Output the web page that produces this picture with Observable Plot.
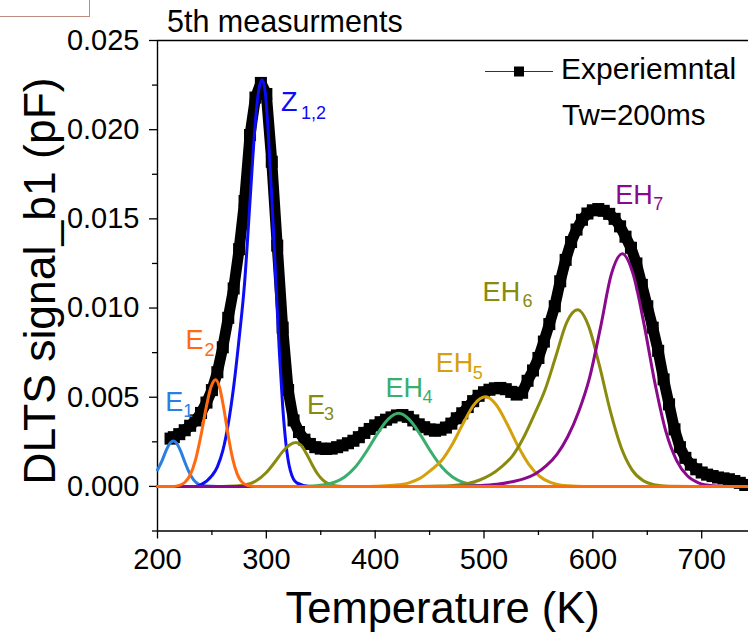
<!DOCTYPE html>
<html><head><meta charset="utf-8">
<script src="https://cdn.jsdelivr.net/npm/d3@7"></script>
<script src="https://cdn.jsdelivr.net/npm/@observablehq/plot@0.6"></script>
<style>
body{margin:0;background:#fff;}
#wrap{position:relative;width:748px;height:634px;overflow:hidden;background:#fff;}
#corner{position:absolute;left:0;top:0;width:88.5px;height:16px;border-right:1.5px solid #bd8e80;border-bottom:1.5px solid #bd8e80;}
svg text{font-family:"Liberation Sans",Arial,sans-serif;}
</style></head><body><div id="wrap"><div id="corner"></div></div>
<script>
// ---- axes ----
const xDomain = [200, 743];
const yDomain = [-0.0025, 0.025];
const xTicks = [200, 300, 400, 500, 600, 700];
const xMinorTicks = [250, 350, 450, 550, 650];
const yTicks = [0, 0.005, 0.01, 0.015, 0.02, 0.025];
const yMinorTicks = [-0.0025, 0.0025, 0.0075, 0.0125, 0.0175, 0.0225];

// ---- experimental DLTS signal (T [K], signal [pF]) ----
const experimental = [
[212,0.00268],[215,0.00276],[220,0.00293],[225,0.00315],[230,0.00340],[235,0.00370],[240,0.00412],
[245,0.00470],[250,0.00540],[255,0.00640],[260,0.00780],[265,0.00945],[270,0.01110],[275,0.01330],
[280,0.01600],[285,0.01970],[290,0.02180],[295,0.02262],[300,0.02200],[305,0.01820],[310,0.01350],
[315,0.00890],[320,0.00540],[325,0.00370],[330,0.00305],[335,0.00262],[340,0.00238],[345,0.00220],
[350,0.00212],[355,0.00210],[360,0.00212],[365,0.00220],[370,0.00230],[375,0.00242],[380,0.00256],
[385,0.00276],[390,0.00300],[395,0.00322],[400,0.00342],[405,0.00360],[410,0.00374],[415,0.00387],
[420,0.00398],[425,0.00400],[430,0.00390],[435,0.00370],[440,0.00348],[445,0.00332],[450,0.00320],
[455,0.00312],[460,0.00318],[465,0.00330],[470,0.00352],[475,0.00382],[480,0.00410],[485,0.00445],
[490,0.00478],[495,0.00508],[500,0.00528],[505,0.00542],[510,0.00550],[515,0.00552],[520,0.00545],
[525,0.00530],[530,0.00515],[535,0.00525],[540,0.00592],[545,0.00650],[550,0.00720],[555,0.00812],
[560,0.00910],[565,0.01010],[570,0.01150],[575,0.01270],[580,0.01370],[585,0.01440],[590,0.01495],
[595,0.01530],[600,0.01548],[605,0.01555],[610,0.01545],[615,0.01528],[620,0.01500],[625,0.01458],
[630,0.01400],[635,0.01338],[640,0.01250],[645,0.01130],[650,0.01010],[655,0.00890],[660,0.00760],
[665,0.00600],[670,0.00460],[675,0.00320],[680,0.00220],[685,0.00160],[690,0.00122],[695,0.00096],
[700,0.00078],[705,0.00066],[710,0.00058],[715,0.00050],[720,0.00045],[725,0.00040],[730,0.00030],
[735,0.00020],[740,0.00008]
];

// ---- fitted components ----
const compE1 = [[200,0.00092],[204,0.00142],[208,0.00202],[212,0.00246],[214.5,0.00255],[217,0.00246],
[221,0.00202],[225,0.00138],[229,0.00080],[233,0.00038],[238,0.00012],[245,0.00002],[255,0],[743,0]];
const compE2 = [[200,0],[215,0],[220,0.00006],[225,0.00022],[230,0.00064],[235,0.0015],[240,0.00288],
[245,0.0045],[249,0.00554],[253.3,0.00598],[257,0.00556],[261,0.00434],[265,0.00284],[269,0.00157],
[273,0.00073],[277,0.00028],[283,0.00005],[290,0],[743,0]];
const compZ12 = [[200,0],[235,0],[240,0.0001],[250,0.0006],[255,0.0011],[260,0.0020],[265,0.0035],
[270,0.0056],[275,0.0083],[280,0.0114],[285,0.0160],[290,0.0205],[293,0.0222],[296,0.0228],[299,0.0221],
[302,0.0196],[306,0.0150],[309,0.0112],[312,0.0075],[315,0.0045],[318,0.0024],[322,0.0009],[328,0.0002],
[340,0],[743,0]];
const compE3 = [[200,0],[260,0],[270,0.00002],[280,0.00008],[290,0.00029],[300,0.00078],[308,0.00138],
[315,0.00195],[321,0.00231],[327.3,0.00246],[332,0.00229],[337,0.00182],[342,0.00123],[347,0.00071],
[352,0.00035],[358,0.00012],[365,0.00003],[375,0],[743,0]];
const compEH4 = [[200,0],[330,0],[337,0.00001],[352,0.00008],[362,0.00022],[372,0.00053],[382,0.0011],
[392,0.00196],[402,0.00295],[412,0.00377],[421.5,0.0041],[431,0.00377],[441,0.00295],[451,0.00196],
[461,0.0011],[471,0.00053],[481,0.00022],[491,0.00008],[506,0.00001],[515,0],[743,0]];
const compEH5 = [[200,0],[390,0],[400,0.00001],[416,0.00006],[431,0.0002],[441,0.00045],[451,0.0009],
[461,0.00145],[471,0.00238],[481,0.00355],[491,0.0046],[501.5,0.00502],[511,0.00459],[521,0.00353],
[531,0.00229],[541,0.00125],[551,0.00057],[561,0.00022],[571,0.00007],[586,0.00001],[595,0],[743,0]];
const compEH6 = [[200,0],[440,0],[460,0.00002],[474,0.00007],[486,0.00018],[496,0.00036],[506,0.00065],
[516,0.0011],[526,0.0017],[536,0.0027],[546,0.0040],[556,0.0054],[566,0.0073],[576,0.0092],[586,0.0099],
[596,0.0090],[606,0.00678],[616,0.00423],[626,0.00218],[636,0.00093],[646,0.00033],[656,0.0001],
[670,0.00001],[690,0],[743,0]];
const compEH7 = [[200,0],[470,0],[495,0.00004],[512,0.00012],[527,0.00028],[537,0.00044],[547,0.0007],
[557,0.00115],[567,0.0018],[577,0.0028],[587,0.0042],[597,0.0061],[607,0.0089],[617,0.0119],[627,0.01304],
[637,0.0119],[647,0.0091],[657,0.0058],[667,0.0031],[677,0.00145],[687,0.00058],[697,0.0002],[710,0.00004],
[725,0],[743,0]];

// ---- presentation (styles and label offsets, kept apart from data) ----
const FONT = "'Liberation Sans', Arial, sans-serif";
const series = [
  {data: compE1,  color: "#2b7fe0", name: "E",  sub: "1",   dx: -8,  dy: -30, sdx: 10,  sdy: -24},
  {data: compZ12, color: "#0c0cf5", name: "Z",  sub: "1,2", dx: 19,  dy: 31,  sdx: 39,  sdy: 39},
  {data: compE3,  color: "#8a8a0e", name: "E",  sub: "3",   dx: 11,  dy: -29, sdx: 28,  sdy: -23},
  {data: compEH4, color: "#3aae6c", name: "EH", sub: "4",   dx: -13, dy: -16, sdx: 24,  sdy: -10},
  {data: compEH5, color: "#d4a00c", name: "EH", sub: "5",   dx: -50, dy: -25, sdx: -13, sdy: -18},
  {data: compEH6, color: "#8a8a0e", name: "EH", sub: "6",   dx: -95, dy: -9,  sdx: -55, sdy: -3},
  {data: compEH7, color: "#8b0a8b", name: "EH", sub: "7",   dx: -7,  dy: -50, sdx: 31,  sdy: -44},
  {data: compE2,  color: "#ff6a10", name: "E",  sub: "2",   dx: -30, dy: -31, sdx: -11, sdy: -24}
];

const marks = [
  Plot.ruleY([yDomain[1]], {stroke: "black", strokeWidth: 1.4}),
  Plot.ruleY([yDomain[0]], {stroke: "black", strokeWidth: 1.4}),
  Plot.ruleX([xDomain[0]], {stroke: "black", strokeWidth: 1.4}),
  Plot.axisX({ticks: xTicks, tickSize: 8, tickPadding: 9, fontSize: 29, label: null,
    tickFormat: d => String(d), strokeWidth: 1.3}),
  Plot.axisX({ticks: xMinorTicks, tickSize: 4.5, label: null, tickFormat: () => "", strokeWidth: 1.3}),
  Plot.axisY({ticks: yTicks, tickSize: 8, tickPadding: 10, fontSize: 29, label: null,
    tickFormat: d3.format(".3f"), strokeWidth: 1.3}),
  Plot.axisY({ticks: yMinorTicks, tickSize: 5, label: null, tickFormat: () => "", strokeWidth: 1.3}),
  Plot.line(experimental, {x: d => d[0], y: d => d[1], stroke: "black", strokeWidth: 11, strokeLinejoin: "round"}),
  Plot.dot(experimental, {x: d => d[0], y: d => d[1], symbol: "square", r: 6.8, fill: "black", stroke: null})
];
for (const s of series) {
  marks.push(Plot.line(s.data, {x: d => d[0], y: d => d[1], stroke: s.color, strokeWidth: 3, curve: "monotone-x"}));
}
for (const s of series) {
  const peak = d3.greatest(s.data, d => d[1]);
  marks.push(Plot.text([peak], {x: d => d[0], y: d => d[1], text: () => s.name, dx: s.dx, dy: s.dy,
    fill: s.color, fontSize: 27, textAnchor: "start", lineAnchor: "bottom", fontFamily: FONT}));
  marks.push(Plot.text([peak], {x: d => d[0], y: d => d[1], text: () => s.sub, dx: s.sdx, dy: s.sdy,
    fill: s.color, fontSize: 18, textAnchor: "start", lineAnchor: "bottom", fontFamily: FONT}));
}

const chart = Plot.plot({
  width: 748, height: 634,
  marginLeft: 157, marginRight: 0, marginTop: 40, marginBottom: 103.5,
  x: {domain: xDomain},
  y: {domain: yDomain},
  style: {fontFamily: FONT, background: "white", color: "black", overflow: "visible"},
  marks
});
document.getElementById("wrap").prepend(chart);

// ---- titles and legend ----
const svg = d3.select(chart);
const g = svg.append("g").attr("font-family", FONT).attr("fill", "black").attr("text-anchor", "start");
g.append("text").attr("x", 167).attr("y", 31.7).attr("font-size", 30.5).text("5th measurments");
g.append("text").attr("x", 285.5).attr("y", 623).attr("font-size", 43.5).text("Temperature (K)");
g.append("text").attr("transform", "translate(55,281) rotate(-90)").attr("text-anchor", "middle")
  .attr("font-size", 44.5).text("DLTS signal_b1 (pF)");
g.append("line").attr("x1", 485).attr("x2", 553).attr("y1", 71.5).attr("y2", 71.5)
  .attr("stroke", "#333").attr("stroke-width", 1.2);
g.append("rect").attr("x", 514).attr("y", 66.5).attr("width", 10).attr("height", 10).attr("fill", "black");
g.append("text").attr("x", 561).attr("y", 78.5).attr("font-size", 30).text("Experiemntal");
g.append("text").attr("x", 562).attr("y", 124.5).attr("font-size", 29.5).text("Tw=200ms");
</script></body></html>
